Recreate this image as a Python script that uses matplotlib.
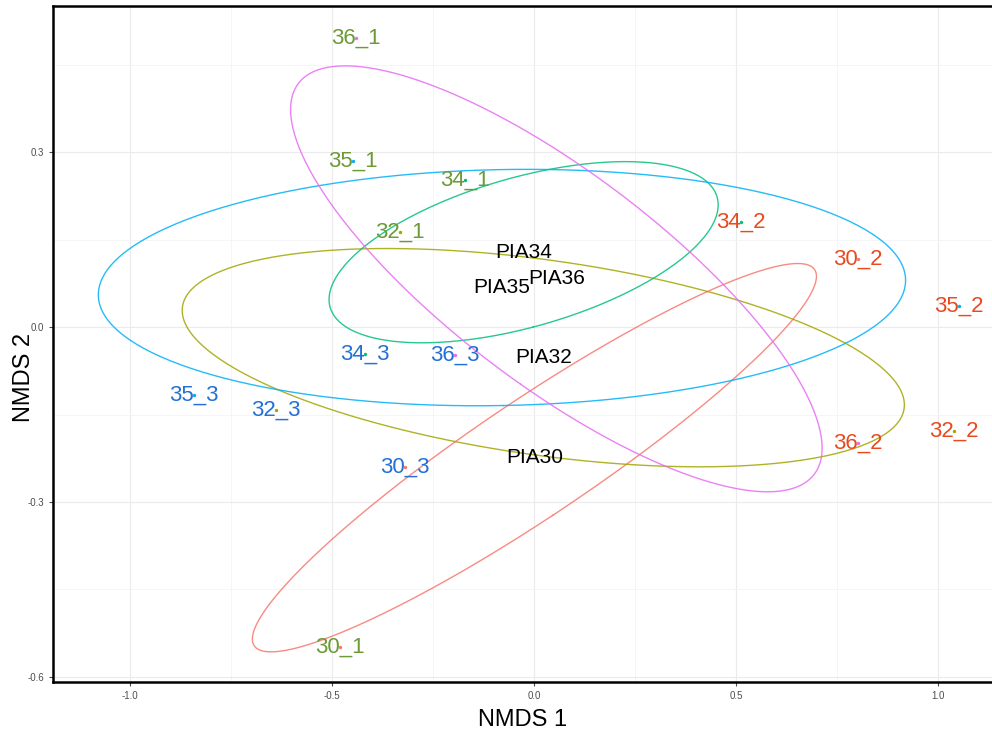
import numpy as np
import matplotlib.pyplot as plt

# NMDS scores
samples = ['30_1', '30_2', '30_3', '32_1', '32_2', '32_3', '34_1', '34_2', '34_3',
           '35_1', '35_2', '35_3', '36_1', '36_2', '36_3']
nmds1 = [-0.48, 0.802, -0.319, -0.332, 1.04, -0.639, -0.171, 0.512, -0.418,
         -0.448, 1.052, -0.842, -0.44, 0.802, -0.196]
nmds2 = [-0.549, 0.117, -0.240, 0.163, -0.178, -0.142, 0.252, 0.180, -0.046,
         0.285, 0.036, -0.117, 0.496, -0.199, -0.048]
groups = ['PIA30', 'PIA32', 'PIA34', 'PIA35', 'PIA36']
group_colors = ['#F8766D', '#A3A500', '#00BF7D', '#00B0F6', '#E76BF3']
rep_colors = {'1': '#6B9A36', '2': '#E84A1E', '3': '#2370D6'}

plt.rcParams['font.family'] = ['Liberation Sans', 'DejaVu Sans']

fig = plt.figure(figsize=(9.92, 7.33), dpi=100)
ax = fig.add_axes([0.0534, 0.0696, 0.9466, 0.922])

x = np.array(nmds1)
y = np.array(nmds2)
grp = np.array(['PIA' + s.split('_')[0] for s in samples])

t = np.linspace(0, 2 * np.pi, 300)
circle = np.vstack([np.cos(t), np.sin(t)])

# 1-sd ellipses around each group's centroid
for g, col in zip(groups, group_colors):
    m = grp == g
    pts = np.vstack([x[m], y[m]])
    c = pts.mean(axis=1)
    cov = np.cov(pts)
    vals, vecs = np.linalg.eigh(cov)
    ell = vecs @ (np.sqrt(np.clip(vals, 0, None))[:, None] * circle) + c[:, None]
    ax.plot(ell[0], ell[1], color=col, lw=1.0, alpha=0.85, zorder=2)
    ax.scatter(x[m], y[m], s=6, color=col, zorder=4, linewidths=0)
    ax.text(c[0], c[1], g, ha='center', va='center', fontsize=15,
            color='black', zorder=5)

for s, xi, yi in zip(samples, x, y):
    ax.text(xi, yi, s, ha='center', va='center', fontsize=16,
            color=rep_colors[s.split('_')[1]], zorder=3)

ax.set_xlim(-1.191, 1.134)
ax.set_ylim(-0.609, 0.551)
ax.set_xticks([-1.0, -0.5, 0.0, 0.5, 1.0])
ax.set_yticks([-0.6, -0.3, 0.0, 0.3])
ax.set_xticks([-0.75, -0.25, 0.25, 0.75], minor=True)
ax.set_yticks([-0.45, -0.15, 0.15, 0.45], minor=True)
ax.xaxis.set_major_formatter(plt.FuncFormatter(lambda v, p: f'{v:.1f}'))
ax.yaxis.set_major_formatter(plt.FuncFormatter(lambda v, p: f'{v:.1f}'))
ax.grid(which='major', color='#EBEBEB', lw=0.8)
ax.grid(which='minor', color='#F4F4F4', lw=0.6)
ax.set_axisbelow(True)
ax.tick_params(which='major', labelsize=7, colors='#4D4D4D', length=3, width=0.8)
ax.tick_params(which='minor', length=0)
for side in ['left', 'bottom', 'top']:
    ax.spines[side].set_linewidth(1.8)
    ax.spines[side].set_color('black')
ax.spines['right'].set_visible(False)

ax.set_xlabel('NMDS 1', fontsize=17, labelpad=6)
ax.set_ylabel('NMDS 2', fontsize=17)
ax.yaxis.set_label_coords(-0.019, 0.45)

fig.savefig('out.png', dpi=100)
